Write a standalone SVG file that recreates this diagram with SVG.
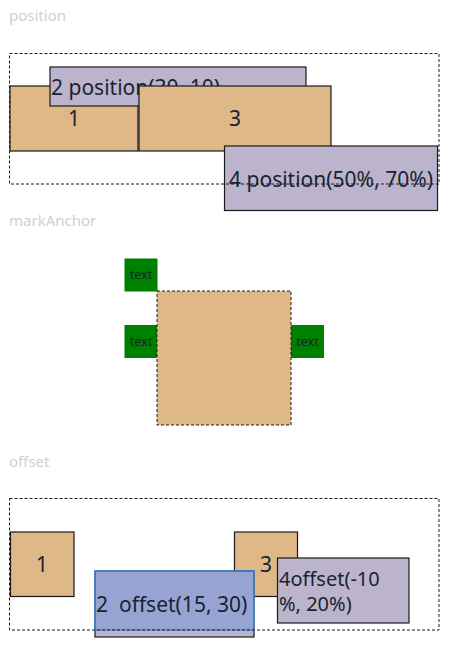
<svg xmlns="http://www.w3.org/2000/svg" width="451" height="652" viewBox="0 0 451 652">
<style>
.title{font-family:"Noto Sans","Liberation Sans",sans-serif;font-size:15px;fill:#cfcfcf}
.lbl{font-family:"Noto Sans","Liberation Sans",sans-serif;font-size:21px;fill:#182431}
.two{font-size:20px}
.sm{font-family:"Noto Sans","Liberation Sans",sans-serif;font-size:12.5px;fill:#182431}
.tan{fill:#deb887;stroke:#1a1a1a;stroke-width:1.2}
.pur{fill:#bcb4cc;stroke:#1a1a1a;stroke-width:1.2}
.dash{fill:none;stroke:#1a1a1a;stroke-width:1;stroke-dasharray:3 2}
.grn{fill:#008000}
</style>
<rect width="451" height="652" fill="#ffffff"/>
<text class="title" x="9" y="21">position</text>
<text class="title" x="9" y="226">markAnchor</text>
<text class="title" x="9" y="467">offset</text>

<g id="pos1"><rect class="tan" x="10" y="86" width="128" height="65"/><text class="lbl" x="74" y="126" text-anchor="middle">1</text></g>
<g id="pos2"><rect class="pur" x="50" y="67" width="256" height="39"/><text class="lbl" x="51" y="95">2 position(30, 10)</text></g>
<g id="pos3"><rect class="tan" x="139" y="86" width="192" height="65"/><text class="lbl" x="235" y="126" text-anchor="middle">3</text></g>
<g id="pos4"><rect class="pur" x="224.5" y="146" width="213" height="64.5"/><text class="lbl" x="331" y="187" text-anchor="middle">4 position(50%, 70%)</text></g>
<g id="posContainer"><rect class="dash" x="9.5" y="53.5" width="429.5" height="130.5"/></g>

<g id="anchorTop"><rect class="grn" x="124.5" y="258.5" width="33" height="33"/><text class="sm" x="141" y="279" text-anchor="middle">text</text></g>
<g id="anchorLeft"><rect class="grn" x="124.5" y="325" width="33" height="33"/><text class="sm" x="141" y="346" text-anchor="middle">text</text></g>
<g id="anchorRight"><rect class="grn" x="291" y="325" width="33" height="33"/><text class="sm" x="307.5" y="346" text-anchor="middle">text</text></g>
<g id="anchorBox"><rect x="157" y="291" width="134" height="134" fill="#deb887"/><rect class="dash" x="157" y="291" width="134" height="134"/></g>

<g id="off1"><rect class="tan" x="10.5" y="532" width="63.5" height="64.5"/><text class="lbl" x="42" y="572" text-anchor="middle">1</text></g>
<g id="off3"><rect class="tan" x="234.5" y="532" width="63" height="64.5"/><text class="lbl" x="266" y="572" text-anchor="middle">3</text></g>
<g id="off2"><rect class="pur" x="95" y="571" width="159" height="66"/><rect x="95" y="571" width="159" height="59" fill="rgba(40,110,230,0.25)" stroke="#3b8ae6" stroke-width="1.3"/><text class="lbl" x="96" y="612" xml:space="preserve">2  offset(15, 30)</text></g>
<g id="off4"><rect class="pur" x="277.5" y="558" width="131.5" height="65"/><text class="lbl two" x="279" y="586">4offset(-10</text><text class="lbl two" x="279" y="611">%, 20%)</text></g>
<g id="offContainer"><rect class="dash" x="9.5" y="498.5" width="429.5" height="131.5"/></g>
<g id="connectors"/>
</svg>
